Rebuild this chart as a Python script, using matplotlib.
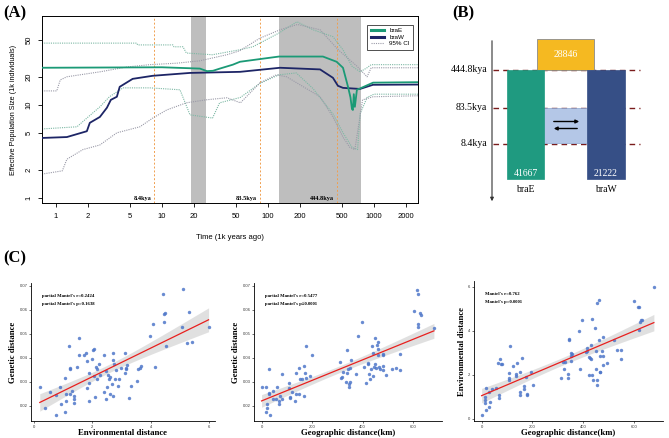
import numpy as np
import matplotlib.pyplot as plt
from matplotlib.patches import Rectangle
from matplotlib.lines import Line2D

SERIF = ['Liberation Serif', 'DejaVu Serif']
SANS = ['Liberation Sans', 'DejaVu Sans']
plt.rcParams['font.family'] = SANS

# ---------------- data: panel A (PSMC) ----------------
braE_t = [0.74, 10, 22.8, 26.6, 30.3, 35.2, 46.7, 54.5, 84, 127, 330, 444, 510, 569, 600, 620, 632, 645, 660, 690, 740, 980, 2600]
braE_n = [25, 25.3, 24.5, 23, 23.2, 24.5, 27, 29, 31, 33, 33, 29, 25, 15.6, 12, 9, 8.8, 13, 9.5, 14.5, 15, 17.3, 17.5]
braW_t = [0.74, 1.27, 1.96, 2.09, 2.6, 3.03, 3.3, 3.76, 4.0, 5.3, 8.2, 18.4, 54.5, 130, 310, 410, 457, 510, 738, 978, 2600]
braW_n = [4.4, 4.5, 5.2, 6.4, 7.4, 9.3, 11.3, 12.2, 15.6, 19, 20.5, 22, 22.6, 25, 24, 19.5, 16, 15.2, 14.8, 16.4, 16.5]
braE_up_t = [0.74, 5.8, 5.9, 12.7, 13, 15.8, 17, 30, 54, 72, 127, 151, 188, 266, 410, 510, 620, 740, 860, 940, 2600]
braE_up_n = [46, 46, 44, 44, 42, 42, 36, 34.5, 39, 42, 59, 67, 78, 64, 54, 39, 26, 22.6, 25, 27, 27]
braW_up_t = [0.74, 1.02, 1.1, 1.27, 2.6, 4.7, 7.7, 13.8, 22.8, 41, 54, 84, 130, 190, 310, 460, 690, 860, 940, 2600]
braW_up_n = [14.1, 14.1, 18.5, 20, 22.6, 25.5, 27, 28, 29.7, 34.5, 38, 52, 64, 73, 64, 39, 26, 20, 25, 25]
braE_lo_t = [0.74, 1.58, 1.96, 2.6, 3.2, 4.3, 7.7, 14.8, 18.4, 30, 35, 55, 84, 127, 185, 265, 410, 510, 620, 700, 740, 860, 1000, 2600]
braE_lo_n = [5.5, 5.8, 7.2, 9.5, 12.2, 15.2, 15.2, 14.5, 7.8, 7.2, 10.5, 12, 17, 21, 22, 15, 8, 5, 3.5, 3.3, 8, 12, 13, 13]
braW_lo_t = [0.74, 1.15, 1.27, 1.8, 2.6, 3.76, 6.2, 8.2, 11.1, 17, 26, 41, 55, 84, 120, 150, 310, 410, 510, 590, 660, 780, 980, 2600]
braW_lo_n = [1.8, 1.95, 2.6, 3.3, 3.7, 5, 5.8, 7.2, 8.8, 10.5, 11.3, 11.9, 10.5, 17.2, 21, 20, 12.2, 7.4, 4.5, 3.5, 3.3, 11.3, 12.2, 12.5]
shade_spans = [(18.8, 26), (127, 754)]
event_times = [8.4, 83.5, 444.8]
event_labels = ['8.4kya', '83.5kya', '444.8kya']

# ---------------- data: panel B (model) ----------------
pop_labels = ['braE', 'braW']
pop_sizes = {'braE': '41667', 'braW': '21222', 'anc': '28846'}

# ---------------- data: panel C (Mantel) ----------------
env1 = [0.2, 0.37, 0.54, 0.77, 0.88, 0.77, 0.94, 1.11, 1.11, 1.05, 1.19, 1.22, 1.22, 1.25, 1.30, 1.36, 1.38, 1.38,
        1.47, 1.53, 1.54, 1.05, 1.73, 1.79, 1.83, 1.81, 1.87, 1.90, 1.90, 1.98, 2.02, 2.04, 2.07, 2.08, 2.13, 2.15,
        2.17, 2.26, 2.24, 2.40, 2.40, 2.47, 2.47, 2.49, 2.52, 2.58, 2.61, 2.66, 2.61, 2.70, 2.72, 2.75, 2.78, 2.81,
        2.72, 2.89, 2.92, 2.97, 3.11, 3.11, 3.14, 3.15, 3.17, 3.26, 3.32, 3.54, 3.57, 3.62, 3.68, 3.96, 4.08, 4.13,
        4.42, 4.44, 4.47, 4.50, 4.53, 5.07, 5.10, 5.24, 5.32, 5.41, 5.98]
gen1 = [0.0280, 0.0190, 0.0256, 0.0245, 0.0280, 0.0163, 0.0208, 0.0218, 0.0249, 0.0317, 0.0447, 0.0358, 0.0351,
        0.0249, 0.0263, 0.0242, 0.0229, 0.0212, 0.0361, 0.0413, 0.0481, 0.0174, 0.0413, 0.0420, 0.0385, 0.0272,
        0.0338, 0.0294, 0.0219, 0.0396, 0.0433, 0.0436, 0.0324, 0.0235, 0.0362, 0.0354, 0.0310, 0.0327, 0.0372,
        0.0413, 0.0256, 0.0226, 0.0344, 0.0280, 0.0328, 0.0310, 0.0321, 0.0290, 0.0249, 0.0420, 0.0392, 0.0372,
        0.0310, 0.0349, 0.0242, 0.0283, 0.0310, 0.0358, 0.0420, 0.0338, 0.0358, 0.0351, 0.0368, 0.0233, 0.0283,
        0.0301, 0.0355, 0.0358, 0.0365, 0.0490, 0.0542, 0.0361, 0.0665, 0.0549, 0.0583, 0.0587, 0.0447, 0.0528,
        0.0685, 0.0460, 0.0592, 0.0464, 0.0528]
geo2 = [0, 16, 17, 20, 23, 31, 31, 33, 31, 47, 44, 57, 63, 71, 71, 73, 80, 80, 107, 109, 111, 113, 120, 133, 137,
        137, 147, 149, 151, 160, 167, 167, 173, 175, 177, 193, 200, 311, 316, 320, 324, 333, 337, 340, 343, 347,
        347, 351, 353, 351, 373, 383, 397, 407, 413, 420, 420, 427, 431, 433, 436, 440, 440, 447, 449, 451, 453,
        456, 460, 463, 463, 467, 471, 480, 480, 480, 483, 493, 517, 533, 549, 549, 603, 620, 620, 617, 620, 629,
        633, 683]
gen2 = [0.0280, 0.0280, 0.0174, 0.0190, 0.0208, 0.0249, 0.0253, 0.0163, 0.0351, 0.0263, 0.0226, 0.0226, 0.0280,
        0.0208, 0.0218, 0.0240, 0.0226, 0.0331, 0.0294, 0.0272, 0.0235, 0.0233, 0.0259, 0.0219, 0.0249, 0.0338,
        0.0249, 0.0358, 0.0310, 0.0310, 0.0365, 0.0240, 0.0338, 0.0317, 0.0447, 0.0324, 0.0413, 0.0381, 0.0314,
        0.0320, 0.0340, 0.0297, 0.0338, 0.0433, 0.0355, 0.0280, 0.0290, 0.0358, 0.0392, 0.0299, 0.0331, 0.0490,
        0.0549, 0.0361, 0.0293, 0.0378, 0.0372, 0.0331, 0.0310, 0.0354, 0.0447, 0.0420, 0.0324, 0.0362, 0.0372,
        0.0481, 0.0358, 0.0453, 0.0466, 0.0413, 0.0436, 0.0362, 0.0351, 0.0417, 0.0410, 0.0347, 0.0365, 0.0327,
        0.0354, 0.0358, 0.0417, 0.0349, 0.0594, 0.0528, 0.0539, 0.0682, 0.0665, 0.0587, 0.0580, 0.0526]
geo3 = [0, 19, 31, 15, 15, 15, 19, 34, 28, 40, 55, 69, 69, 63, 74, 78, 80, 109, 109, 109, 112, 122, 135, 137, 138,
        151, 151, 151, 160, 168, 168, 179, 179, 175, 194, 202, 311, 319, 323, 330, 340, 340, 343, 346, 351, 352,
        352, 355, 383, 386, 396, 424, 415, 411, 415, 424, 427, 430, 433, 437, 437, 440, 445, 449, 449, 453, 453,
        456, 462, 462, 465, 466, 466, 475, 478, 478, 478, 494, 520, 532, 549, 549, 602, 619, 617, 623, 630, 633,
        619, 679]
env3 = [0.19, 0.38, 0.52, 0.72, 0.84, 1.01, 1.39, 0.77, 1.23, 1.35, 1.39, 0.96, 1.10, 2.51, 2.70, 2.48, 2.48, 1.86,
        1.78, 2.07, 3.28, 2.41, 1.96, 2.03, 2.55, 1.20, 1.06, 2.12, 2.75, 1.49, 1.35, 1.13, 1.06, 1.88, 2.14, 1.54,
        1.83, 2.58, 2.26, 2.58, 2.03, 1.86, 3.62, 3.57, 2.99, 2.84, 2.61, 2.94, 3.96, 2.26, 4.46, 2.00, 3.19, 3.01,
        3.09, 2.80, 2.75, 2.70, 3.33, 4.54, 2.00, 1.78, 4.14, 3.09, 2.26, 1.74, 1.54, 5.26, 5.41, 3.59, 2.84, 2.10,
        2.14, 3.09, 2.84, 2.43, 3.71, 2.55, 3.59, 3.13, 3.13, 2.72, 5.33, 5.07, 5.07, 4.39, 4.49, 4.49, 4.03, 5.99]
mantel1 = ["partial Mantel's r=0.2424", "partial Mantel's p=0.1638"]
mantel2 = ["partial Mantel's r=0.5477", "partial Mantel's p\u22640.0001"]
mantel3 = ["Mantel's r=0.762", "Mantel's p=0.0001"]

W, H = 669, 438
fig = plt.figure(figsize=(W / 100, H / 100), dpi=100)


def box(l, t, r, b):
    return [l / W, 1 - b / H, (r - l) / W, (b - t) / H]


# ======== panel A ========
axA = fig.add_axes(box(42, 16, 418, 203))
axA.set_xscale('log')
axA.set_yscale('log')
axA.set_xlim(0.74, 2600)
axA.set_ylim(0.88, 90)
for a, b in shade_spans:
    axA.axvspan(a, b, color='#bebebe', lw=0, zorder=0)
for t, lab in zip(event_times, event_labels):
    axA.axvline(t, color='#f0a050', ls=(0, (2, 2)), lw=0.7, zorder=1)
    axA.text(t / 1.06, 0.99, lab, ha='right', va='center', fontsize=4.5,
             family=SERIF, fontweight='bold', zorder=5)
axA.plot(braE_up_t, braE_up_n, color='#7cb8a4', ls=(0, (1, 1)), lw=0.8, zorder=2)
axA.plot(braE_lo_t, braE_lo_n, color='#7cb8a4', ls=(0, (1, 1)), lw=0.8, zorder=2)
axA.plot(braW_up_t, braW_up_n, color='#9a9aa8', ls=(0, (1, 1)), lw=0.8, zorder=2)
axA.plot(braW_lo_t, braW_lo_n, color='#9a9aa8', ls=(0, (1, 1)), lw=0.8, zorder=2)
axA.plot(braW_t, braW_n, color='#1d2566', lw=1.3, zorder=3)
axA.plot(braE_t, braE_n, color='#1b9a76', lw=1.3, zorder=3)
xt = [1, 2, 5, 10, 20, 50, 100, 200, 500, 1000, 2000]
axA.set_xticks(xt)
axA.set_xticklabels([str(v) for v in xt], fontsize=5.5)
yt = [1, 2, 5, 10, 20, 50]
axA.set_yticks(yt)
axA.set_yticklabels([str(v) for v in yt], fontsize=5.5, rotation=90, va='center')
axA.minorticks_off()
axA.tick_params(direction='out', length=3, width=0.6, pad=4)
for s in axA.spines.values():
    s.set_linewidth(0.7)
axA.set_xlabel('Time (1k years ago)', fontsize=5.5, labelpad=10)
axA.set_ylabel('Effective Population Size (1k individuals)', fontsize=5.2, labelpad=6)
hdl = [Line2D([], [], color='#1b9a76', lw=2.2), Line2D([], [], color='#1d2566', lw=2.2),
       Line2D([], [], color='#9a9aa8', lw=0.8, ls=(0, (1, 1)))]
leg = axA.legend(hdl, ['braE', 'braW', '95% CI'], loc='upper right', fontsize=4.5, fancybox=False,
                 edgecolor='black', handlelength=2.2, borderpad=0.5, labelspacing=0.2,
                 bbox_to_anchor=(0.995, 0.97))
leg.get_frame().set_linewidth(0.6)

# ======== panel B ========
axB = fig.add_axes([440 / W, 1 - 230 / H, 229 / W, 230 / H])
axB.set_xlim(440, 669)
axB.set_ylim(230, 0)
axB.axis('off')
axB.annotate('', xy=(492, 204), xytext=(492, 38),
             arrowprops=dict(arrowstyle='-|>', lw=0.8, color='#333333', mutation_scale=5))
for yy, lab in zip([70, 108, 144], event_labels[::-1]):
    axB.plot([493, 640], [yy, yy], color='#7a1c1c', ls=(0, (4, 3)), lw=1.0, zorder=1)
    axB.text(487, yy, lab, ha='right', va='center', fontsize=7, family=SERIF)
axB.add_patch(Rectangle((537, 39), 57, 31, fc='#f5b921', ec='#8a8a8a', lw=0.6, zorder=2))
axB.add_patch(Rectangle((544, 108), 43, 35, fc='#b4c7e7', ec='#8ea6cf', lw=0.5, zorder=2))
axB.add_patch(Rectangle((507, 70), 37, 109, fc='#1f9a80', ec='#1f9a80', lw=0.5, zorder=3))
axB.add_patch(Rectangle((587, 70), 38, 109, fc='#364f86', ec='#364f86', lw=0.5, zorder=3))
axB.text(565.5, 54.5, pop_sizes['anc'], ha='center', va='center', color='white', fontsize=7, family=SERIF, zorder=4)
axB.text(525.5, 173, pop_sizes['braE'], ha='center', va='center', color='white', fontsize=7, family=SERIF, zorder=4)
axB.text(606, 173, pop_sizes['braW'], ha='center', va='center', color='white', fontsize=7, family=SERIF, zorder=4)
axB.annotate('', xy=(582, 121.5), xytext=(551, 121.5),
             arrowprops=dict(arrowstyle='-|>', lw=1.0, color='black', mutation_scale=5), zorder=5)
axB.annotate('', xy=(551, 128.5), xytext=(580, 128.5),
             arrowprops=dict(arrowstyle='-|>', lw=1.0, color='black', mutation_scale=5), zorder=5)
axB.text(525.5, 190, pop_labels[0], ha='center', va='center', fontsize=7, family=SERIF)
axB.text(606, 190, pop_labels[1], ha='center', va='center', fontsize=7, family=SERIF)


# ======== panel C ========
def mantel_panel(pos, x, y, xlab, ylab, texts, xlim, ylim, xticks, yticks, yfmt):
    ax = fig.add_axes(pos)
    x = np.array(x, float)
    y = np.array(y, float)
    b, a = np.polyfit(x, y, 1)
    n = len(x)
    res = y - (a + b * x)
    s = np.sqrt(np.sum(res ** 2) / (n - 2))
    xs = np.linspace(x.min(), x.max(), 100)
    se = s * np.sqrt(1 / n + (xs - x.mean()) ** 2 / np.sum((x - x.mean()) ** 2))
    fit = a + b * xs
    ax.fill_between(xs, fit - 1.99 * se, fit + 1.99 * se, color='#d4d4d4', alpha=0.7, lw=0, zorder=1)
    ax.scatter(x, y, s=6, color='#4f77c9', alpha=0.85, lw=0, zorder=2)
    ax.plot(xs, fit, color='#e8201e', lw=0.9, zorder=3)
    ax.set_xlim(*xlim)
    ax.set_ylim(*ylim)
    ax.set_xticks(xticks)
    ax.set_xticklabels([str(v) for v in xticks], fontsize=3, color='#333333')
    ax.set_yticks(yticks)
    ax.set_yticklabels([yfmt.format(v) for v in yticks], fontsize=3, color='#333333')
    ax.tick_params(length=1.5, width=0.4, pad=1.2)
    for k in ['top', 'right']:
        ax.spines[k].set_visible(False)
    for k in ['left', 'bottom']:
        ax.spines[k].set_linewidth(0.6)
    ax.set_xlabel(xlab, fontsize=6.3, family=SERIF, fontweight='bold', labelpad=0)
    ax.set_ylabel(ylab, fontsize=6.3, family=SERIF, fontweight='bold', labelpad=1.5)
    ax.text(0.06, 0.9, texts[0], transform=ax.transAxes, fontsize=3.4, family=SERIF, fontweight='bold')
    ax.text(0.06, 0.84, texts[1], transform=ax.transAxes, fontsize=3.4, family=SERIF, fontweight='bold')
    return ax


mantel_panel(box(31, 283, 215, 421), env1, gen1, 'Environmental distance', 'Genetic distance', mantel1,
             (-0.1, 6.2), (0.0136, 0.0712), [0, 2, 4, 6], [0.02, 0.03, 0.04, 0.05, 0.06, 0.07], '{:.2f}')
mantel_panel(box(254, 283, 442, 421), geo2, gen2, 'Geographic distance(km)', 'Genetic distance', mantel2,
             (-30, 715), (0.0136, 0.0712), [0, 200, 400, 600], [0.02, 0.03, 0.04, 0.05, 0.06, 0.07], '{:.2f}')
mantel_panel(box(474, 281, 663, 421), geo3, env3, 'Geographic distance(km)', 'Environmental distance', mantel3,
             (-30, 715), (-0.1, 6.25), [0, 200, 400, 600], [0, 2, 4, 6], '{}')

# panel letters
fig.text(3 / W, 1 - 13 / H, '(A)', fontsize=12, fontweight='bold', family=SERIF, va='center')
fig.text(452 / W, 1 - 13 / H, '(B)', fontsize=12, fontweight='bold', family=SERIF, va='center')
fig.text(3 / W, 1 - 258 / H, '(C)', fontsize=12, fontweight='bold', family=SERIF, va='center')

fig.savefig('out.png', dpi=100)
